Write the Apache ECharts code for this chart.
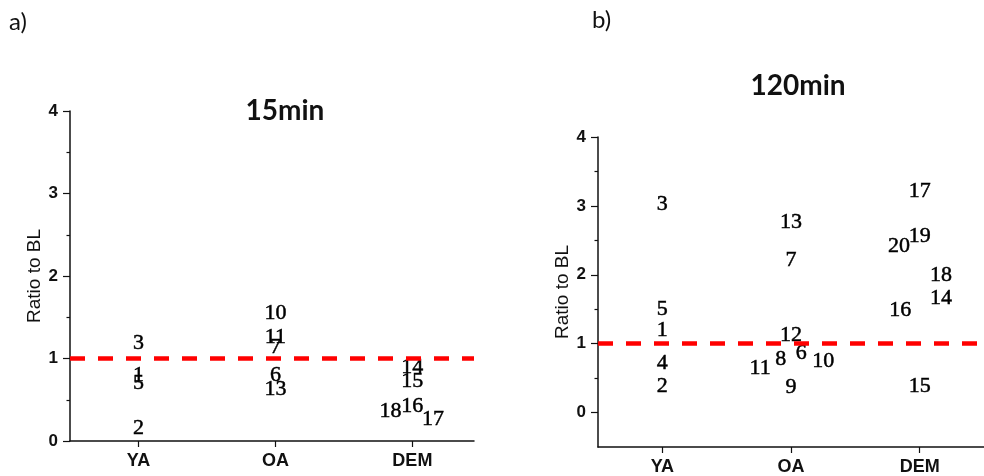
<!DOCTYPE html>
<html>
<head>
<meta charset="utf-8">
<script src="https://cdn.jsdelivr.net/npm/echarts@6/dist/echarts.min.js"></script>
<style>
  html, body { margin: 0; padding: 0; background: #fff; }
  #chart { width: 984px; height: 476px; }
</style>
</head>
<body>
<div id="chart"></div>
<script>
// 组名（x 轴）
var groups = ['YA', 'OA', 'DEM'];
var yTicks = [0, 1, 2, 3, 4];
var yMinorTicks = [0.5, 1.5, 2.5, 3.5];

// a) 15min：编号, x 位置（组序号 + 偏移）, 与 BL 之比
var ids15 = ['3', '1', '5', '2', '10', '11', '7', '6', '13', '14', '15', '16', '18', '17'];
var x15 = [1, 1, 1, 1, 2, 2, 2, 2, 2, 3, 3, 3, 2.84, 3.15];
var y15 = [1.19, 0.80, 0.70, 0.16, 1.55, 1.26, 1.14, 0.80, 0.63, 0.89, 0.72, 0.425, 0.36, 0.26];

// b) 120min
var ids120 = ['3', '5', '1', '4', '2', '13', '7', '12', '6', '8', '10', '11', '9', '17', '19', '20', '18', '14', '16', '15'];
var x120 = [1, 1, 1, 1, 1, 2, 2, 2, 2.08, 1.92, 2.25, 1.76, 2, 3, 3, 2.84, 3.165, 3.165, 2.85, 3];
var y120 = [3.02, 1.50, 1.19, 0.71, 0.38, 2.76, 2.21, 1.12, 0.86, 0.78, 0.75, 0.65, 0.37, 3.22, 2.56, 2.42, 2.00, 1.66, 1.49, 0.38];

var chart = echarts.init(document.getElementById('chart'));

function pts(ids, xs, ys) {
  var out = [];
  for (var i = 0; i < ids.length; i++) {
    out.push({ name: ids[i], value: [xs[i], ys[i]] });
  }
  return out;
}

function xAxisFor(idx, max) {
  return {
    type: 'value', gridIndex: idx, min: 0.5, max: max,
    splitLine: { show: false },
    axisLine: { show: true, onZero: false, lineStyle: { color: '#111', width: 1.5 } },
    axisTick: { show: true, length: 6, customValues: [1, 2, 3], lineStyle: { color: '#111', width: 1.2 } },
    axisLabel: {
      customValues: [1, 2, 3], margin: 11,
      fontFamily: 'Liberation Sans', fontWeight: 'bold', fontSize: 18, color: '#111',
      formatter: function (v) { return groups[Math.round(v) - 1]; }
    }
  };
}

function yAxisFor(idx, min) {
  return {
    type: 'value', gridIndex: idx, min: min, max: 4, position: 'left',
    name: 'Ratio to BL', nameLocation: 'middle', nameGap: 26,
    nameTextStyle: { fontFamily: 'Liberation Sans', fontSize: 19, color: '#111' },
    splitLine: { show: false },
    axisLine: { show: true, onZero: false, lineStyle: { color: '#111', width: 1.5 } },
    axisTick: { show: true, length: 7, customValues: yTicks, lineStyle: { color: '#111', width: 1.2 } },
    axisLabel: {
      customValues: yTicks, margin: 12,
      fontFamily: 'Liberation Sans', fontWeight: 'bold', fontSize: 17, color: '#111'
    }
  };
}

// 只画次刻度的辅助轴
function minorAxisFor(idx, min) {
  return {
    type: 'value', gridIndex: idx, min: min, max: 4, position: 'left',
    splitLine: { show: false },
    axisLine: { show: false },
    axisTick: { show: true, length: 3.5, customValues: yMinorTicks, lineStyle: { color: '#111', width: 1.2 } },
    axisLabel: { show: false }
  };
}

// 用编号文字代替散点
function labelSeries(xi, yi, data) {
  return {
    type: 'custom', xAxisIndex: xi, yAxisIndex: yi,
    renderItem: function (params, api) {
      var p = api.coord([api.value(0), api.value(1)]);
      return {
        type: 'text',
        style: {
          text: data[params.dataIndex].name, x: p[0], y: p[1],
          align: 'center', verticalAlign: 'middle',
          font: '22px "Liberation Serif"', fill: '#000',
          stroke: '#000', lineWidth: 0.5
        }
      };
    },
    data: data,
    markLine: {
      silent: true, symbol: 'none', label: { show: false },
      lineStyle: { color: '#f00', type: [15, 13], width: 4.5 },
      data: [{ yAxis: 1 }]
    },
    z: 3
  };
}

var option = {
  animation: false,
  grid: [
    { left: 70, top: 111, width: 404, height: 330 },
    { left: 598, top: 137, width: 393, height: 311 }
  ],
  xAxis: [xAxisFor(0, 3.45), xAxisFor(1, 3.5)],
  yAxis: [yAxisFor(0, 0), yAxisFor(1, -0.5), minorAxisFor(0, 0), minorAxisFor(1, -0.5)],
  graphic: [
    { type: 'text', left: 9, top: 10, style: { text: 'a)', font: '24px Lato', fill: '#111' } },
    { type: 'text', left: 592, top: 8, style: { text: 'b)', font: '24px Lato', fill: '#111' } },
    { type: 'text', x: 285, y: 111, style: { text: '15min', font: 'bold 28px Lato', fill: '#111', align: 'center', verticalAlign: 'middle' } },
    { type: 'text', x: 798, y: 86, style: { text: '120min', font: 'bold 28px Lato', fill: '#111', align: 'center', verticalAlign: 'middle' } }
  ],
  series: [
    labelSeries(0, 0, pts(ids15, x15, y15)),
    labelSeries(1, 1, pts(ids120, x120, y120))
  ]
};

chart.setOption(option);
</script>
</body>
</html>
